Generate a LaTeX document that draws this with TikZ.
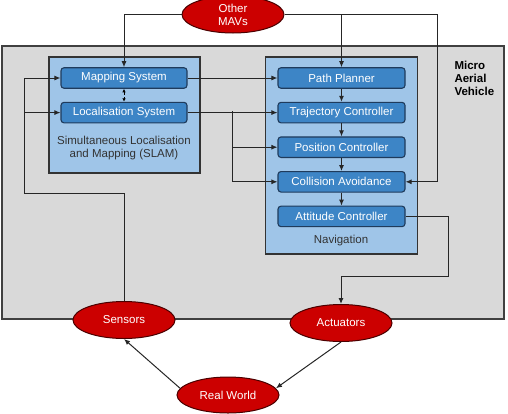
\documentclass[tikz,border=0pt]{standalone}
\usepackage{fontspec}
\setmainfont{Liberation Sans}
\usepackage{tikz}
\usetikzlibrary{arrows.meta, positioning, shapes.geometric}
\definecolor{mavgray}{HTML}{D9D9D9}
\definecolor{boxblue}{HTML}{9FC5E8}
\definecolor{modblue}{HTML}{3D85C6}
\definecolor{modedge}{HTML}{1F3B5C}
\definecolor{ellred}{HTML}{CC0000}
\definecolor{elledge}{HTML}{4A0000}

\begin{document}
\begin{tikzpicture}[
  x=1pt, y=-1pt,
  node distance=13pt,
  font=\fontsize{11.5}{13}\selectfont,
  vehicle/.style={rectangle, draw=black!75, fill=mavgray, line width=1.1pt},
  group/.style={rectangle, draw=black!80, fill=boxblue, line width=1.1pt},
  module/.style={rectangle, rounded corners=3pt, draw=modedge, fill=modblue, text=white, line width=1.1pt, minimum width=126pt, minimum height=20.5pt, inner sep=0pt},
  world/.style={ellipse, draw=elledge, fill=ellred, text=white, line width=1pt, minimum width=102pt, minimum height=37pt, inner sep=0pt, align=center},
  label/.style={text=black!80, align=center},
  arr/.style={-{Latex[length=6pt, width=5pt]}, line width=1pt, draw=black!85},
  link/.style={{Latex[length=3.5pt, width=3.5pt]}-{Latex[length=3.5pt, width=3.5pt]}, densely dashed, line width=0.7pt}
]
\useasboundingbox (0,0) rectangle (508,413);
% containers
\node[vehicle, minimum width=502pt, minimum height=273pt] (mav) at (253,182.5) {};
\node[group, minimum width=151pt, minimum height=116pt] (slam) at (124.5,115) {};
\node[group, minimum width=152pt, minimum height=197pt] (nav) at (341.5,155.5) {};
\node[anchor=north west, align=left, font=\fontsize{11.5}{13}\selectfont\bfseries] (mavtxt) at (451,57.5) {Micro\\Aerial\\Vehicle};
\node[label] (slamtxt) at (124,148) {Simultaneous Localisation\\and Mapping (SLAM)};
\node[label] (navtxt) at (341,241) {Navigation};
% modules
\node[module] (map) at (124,78) {Mapping System};
\node[module, below=of map] (loc) {Localisation System};
\node[module, minimum width=127pt] (pp) at (341.5,78) {Path Planner};
\node[module, minimum width=127pt, below=of pp] (traj) {Trajectory Controller};
\node[module, minimum width=127pt, below=of traj] (pos) {Position Controller};
\node[module, minimum width=127pt, below=of pos] (col) {Collision Avoidance};
\node[module, minimum width=127pt, below=of col] (att) {Attitude Controller};
% outside world
\node[world] (mavs) at (233,14.5) {Other\\MAVs};
\node[world] (sens) at (124,320) {Sensors};
\node[world] (act) at (341,323) {Actuators};
\node[world, minimum height=36pt] (rw) at (228,395) {Real World};
% junctions
\coordinate (mr) at (437,14.5);
\coordinate (lj) at (232,111);
\coordinate (sj) at (24,193);
\coordinate (aj) at (448,276);
% connectors
\draw[arr] (mavs.west) -| (map.north);
\draw[arr] (mavs.east) -- (mr) |- (col.east);
\draw[arr] (mavs.east -| pp.north) -- (pp.north);
\draw[link] (map.south) -- (loc.north);
\foreach \x/\y in {map/pp,loc/traj,pp/traj,traj/pos,pos/col,col/att} \draw[arr] (\x)--(\y);
\draw[arr] (lj) |- (pos.west);
\draw[arr] (lj) |- (col.west);
\draw[arr] (sens.north) |- (sj) |- (map.west);
\draw[arr] (sj) |- (loc.west);
\draw[arr] (att.east) -| (aj) -| (act.north);
\draw[arr] (act.south) -- (rw.8);
\draw[arr] (rw.172) -- (sens.south);
\end{tikzpicture}
\end{document}
